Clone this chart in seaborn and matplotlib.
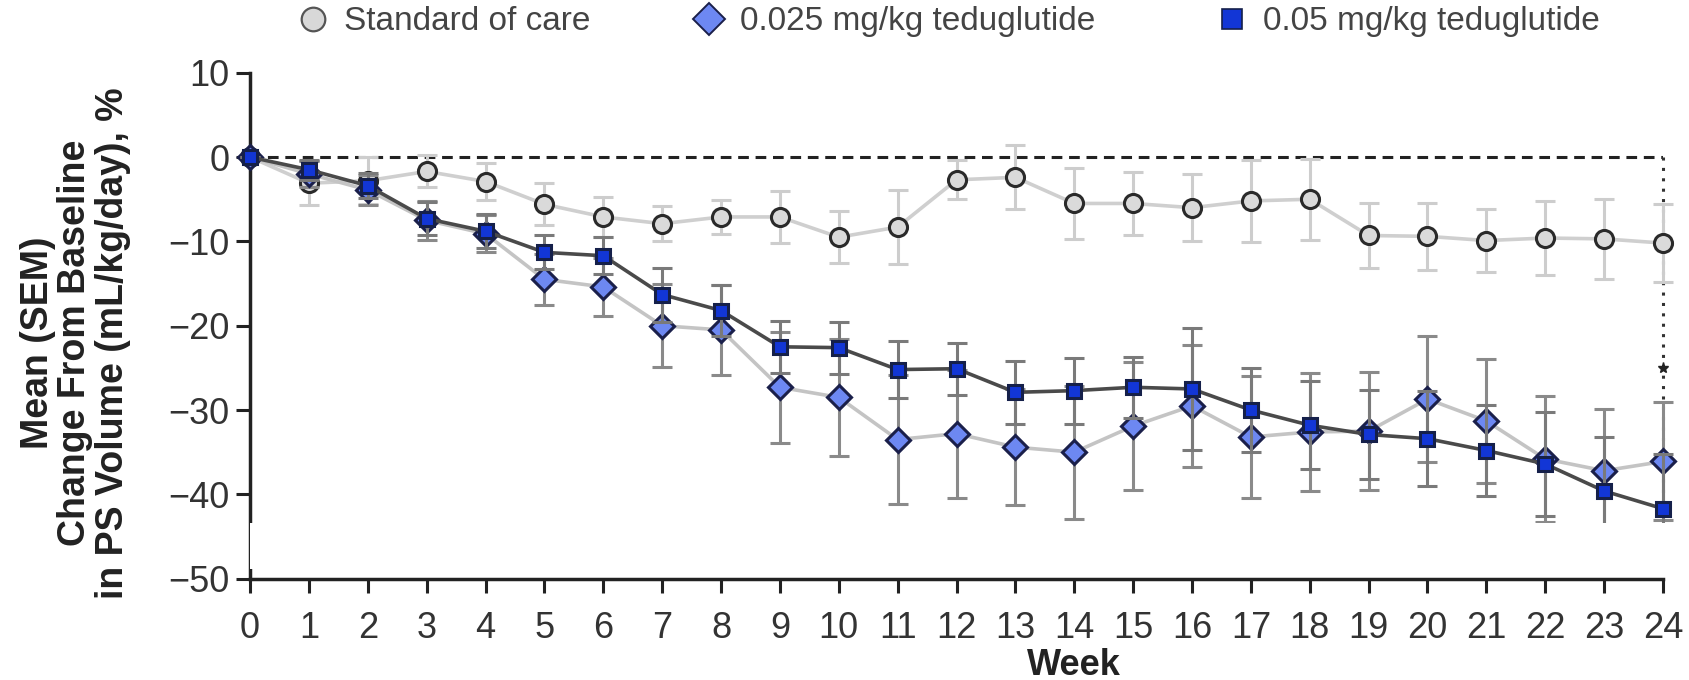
import matplotlib
matplotlib.use("Agg")
import matplotlib.pyplot as plt
import seaborn as sns
import numpy as np
import pandas as pd
from matplotlib.lines import Line2D
from matplotlib.patches import Rectangle

weeks = list(range(25))
soc_mean = [0, -3.1, -2.8, -1.7, -2.9, -5.6, -7.1, -7.9, -7.1, -7.1, -9.5, -8.3, -2.7,
            -2.4, -5.5, -5.5, -6.0, -5.2, -5.0, -9.3, -9.4, -9.9, -9.6, -9.7, -10.2]
soc_sem = [0, 2.6, 2.8, 1.9, 2.2, 2.5, 2.4, 2.1, 2.0, 3.1, 3.1, 4.4, 2.3,
           3.8, 4.2, 3.7, 4.0, 4.9, 4.8, 3.9, 4.0, 3.7, 4.4, 4.7, 4.6]
low_mean = [0, -2.0, -3.9, -7.5, -9.1, -14.5, -15.4, -20.0, -20.5, -27.3, -28.5, -33.5, -32.8,
            -34.4, -35.0, -31.9, -29.5, -33.2, -32.6, -32.5, -28.7, -31.3, -35.8, -37.2, -36.1]
low_sem = [0, 1.5, 1.8, 2.3, 2.2, 3.0, 3.4, 4.9, 5.3, 6.6, 6.9, 7.6, 7.6,
           6.9, 7.9, 7.6, 7.2, 7.2, 7.0, 7.0, 7.5, 7.3, 7.5, 7.3, 7.0]
high_mean = [0, -1.5, -3.4, -7.3, -8.8, -11.3, -11.7, -16.3, -18.2, -22.5, -22.6, -25.2, -25.1,
             -27.9, -27.7, -27.3, -27.5, -30.0, -31.8, -32.9, -33.4, -34.8, -36.4, -39.6, -41.7]
high_sem = [0, 1.2, 1.5, 2.0, 2.0, 2.0, 2.2, 3.2, 3.0, 3.1, 3.1, 3.4, 3.1,
            3.7, 3.9, 3.6, 7.2, 5.0, 5.2, 5.3, 5.6, 5.4, 6.2, 6.4, 6.5]
labels = ["Standard of care", "0.025 mg/kg teduglutide", "0.05 mg/kg teduglutide"]
star_value = -25.0
yticks = [10, 0, -10, -20, -30, -40, -50]

sns.set_theme(style="ticks")
plt.rcParams['font.family'] = ['Liberation Sans', 'DejaVu Sans']
plt.rcParams['axes.unicode_minus'] = True

df = pd.DataFrame({
    "week": weeks * 3,
    "mean": soc_mean + low_mean + high_mean,
    "sem": soc_sem + low_sem + high_sem,
    "group": [labels[0]] * 25 + [labels[1]] * 25 + [labels[2]] * 25,
})

fig = plt.figure(figsize=(16.9, 6.8), dpi=100)
ax = fig.add_axes([0.148, 0.149, 0.836, 0.744])

styles = {
    labels[0]: dict(line="#cfcfcf", ecol="#cdcdcd", marker="o", mfc="#dadada", mec="#2a2a2a", ms=13, z=3),
    labels[1]: dict(line="#c4c4c4", ecol="#8a8a8a", marker="D", mfc="#6d88f2", mec="#1a1f4a", ms=12, z=4),
    labels[2]: dict(line="#4a4a4a", ecol="#7a7a7a", marker="s", mfc="#1236d6", mec="#15204a", ms=10.5, z=5),
}

# zero reference line
ax.axhline(0, xmin=0, xmax=1, color="#222222", lw=2.2, ls=(0, (3.5, 2.2)), zorder=2)

for g in labels:
    sub = df[df["group"] == g]
    st = styles[g]
    ax.errorbar(sub["week"], sub["mean"], yerr=sub["sem"], fmt="none",
                ecolor=st["ecol"], elinewidth=2.2, capsize=7, capthick=2.2,
                zorder=st["z"], clip_on=False)
    sns.lineplot(data=sub, x="week", y="mean", ax=ax, color=st["line"], lw=2.6,
                 marker=st["marker"], markersize=st["ms"], markerfacecolor=st["mfc"],
                 markeredgecolor=st["mec"], markeredgewidth=2.2, zorder=st["z"] + 0.5,
                 legend=False, errorbar=None, clip_on=False)

# dotted line at week 24 linking 0 and final value
ax.plot([weeks[-1], weeks[-1]], [0, high_mean[-1]], color="#333333", lw=2.2,
        ls=(0, (1, 2.4)), zorder=2.5, clip_on=False)
ax.plot([weeks[-1]], [star_value], marker="*", color="#222222", ms=8, zorder=6, clip_on=False)

ax.set_xlim(0, 24)
ax.set_ylim(-50, 10)
ax.set_xticks(weeks)
ax.set_yticks(yticks)
ax.set_yticklabels([str(v).replace("-", "\u2212") for v in yticks])
ax.tick_params(axis="both", labelsize=26, length=10, width=2.2, colors="#222222",
               labelcolor="#333333")
ax.tick_params(axis="x", pad=13)
ax.tick_params(axis="y", pad=5)
for s in ["top", "right"]:
    ax.spines[s].set_visible(False)
for s in ["left", "bottom"]:
    ax.spines[s].set_linewidth(2.5)
    ax.spines[s].set_color("#222222")

ax.set_xlabel("Week", fontsize=26, fontweight="bold", color="#222222")
ax.xaxis.label.set_va("center")
ax.xaxis.set_label_coords(14 / 24, (579 - 666) / 506)
ax.set_ylabel("Mean (SEM)\nChange From Baseline\nin PS Volume (mL/kg/day), %", fontsize=27,
              fontweight="bold", linespacing=1.05, color="#222222")
ax.yaxis.label.set_va("center")
ax.yaxis.set_label_coords((75 - 250) / 1413, 0.466)

# white masking patch seen in the reference
fig.add_artist(Rectangle((250 / 1690, 1 - 569 / 680), 1 - 250 / 1690, 46 / 680,
                         transform=fig.transFigure, facecolor="white", edgecolor="none", zorder=20))

handles = [
    Line2D([], [], ls="none", marker="o", ms=17, mfc="#d8d8d8", mec="#555555", mew=1.6),
    Line2D([], [], ls="none", marker="D", ms=16, mfc="#6d88f2", mec="#1a1f4a", mew=1.4),
    Line2D([], [], ls="none", marker="s", ms=15, mfc="#1236d6", mec="#15204a", mew=1.2),
]
anchors = [296 / 1690, 692 / 1690, 1215 / 1690]
for h, lab, xa in zip(handles, labels, anchors):
    leg = fig.legend([h], [lab], loc="center left", bbox_to_anchor=(xa, 0.968),
                     frameon=False, fontsize=24, handletextpad=0.45, handlelength=1.0,
                     borderpad=0, borderaxespad=0)
    for t in leg.get_texts():
        t.set_color("#444444")

fig.savefig("out.png", dpi=100)
